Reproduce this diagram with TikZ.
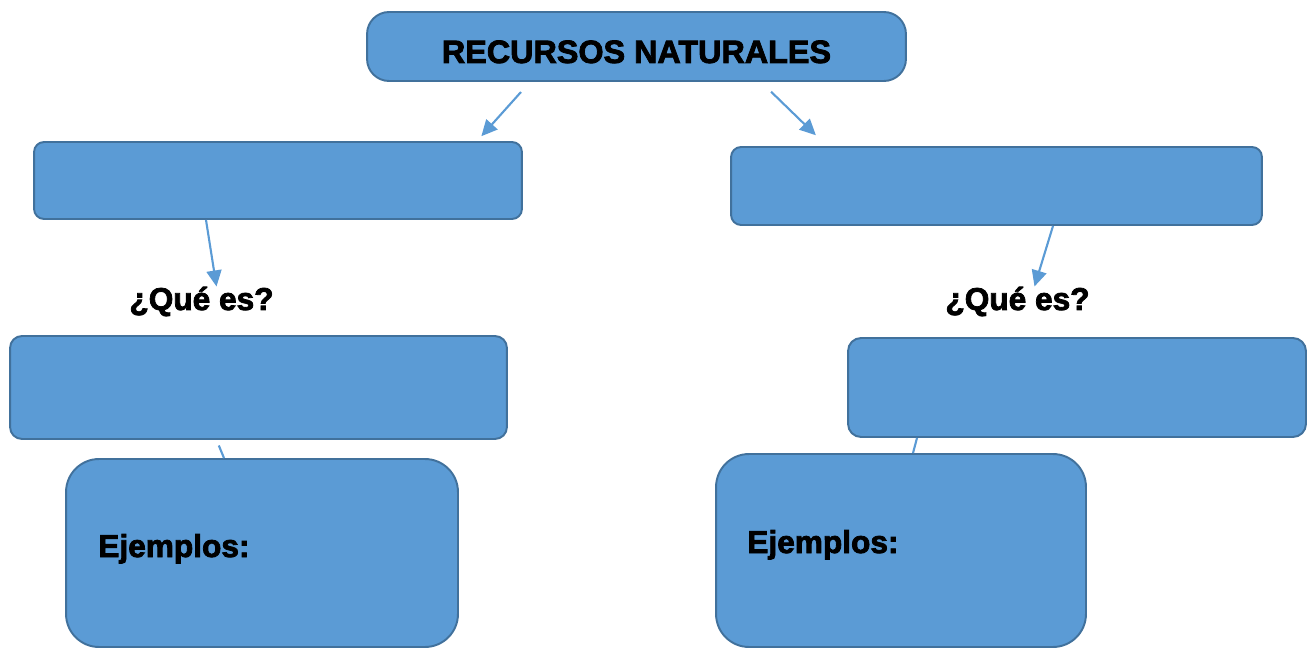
\documentclass[tikz,border=0pt]{standalone}
\usepackage{fontspec}
\setmainfont{Liberation Sans}[BoldFeatures={FakeBold=2.5}]
\usetikzlibrary{arrows.meta,calc}
\definecolor{boxfill}{HTML}{5B9BD5}
\definecolor{boxline}{HTML}{41719C}
\tikzset{
	conceptbox/.style={rectangle, draw=boxline, fill=boxfill, line width=1.1pt, inner sep=0pt},
	asklabel/.style={inner sep=0pt, anchor=base, font=\fontsize{18}{20}\selectfont\bfseries},
	linkarrow/.style={draw=boxfill, line width=1.2pt, -{Triangle[length=0.32cm, width=0.3cm]}},
	linkline/.style={draw=boxfill, line width=1.2pt}
}
\begin{document}
\begin{tikzpicture}[x=0.02cm, y=-0.02cm]
	\useasboundingbox (0,0) rectangle (1311,648);
	\node (top) at (636.5, 46.5)	[conceptbox, minimum width=10.78cm, minimum height=1.38cm, rounded corners=0.44cm]	{\raisebox{-0.33cm}[0pt][0pt]{\fontsize{18.4}{20}\selectfont\bfseries RECURSOS NATURALES}};
	\node (l1) at (278, 180.5)	[conceptbox, minimum width=9.76cm, minimum height=1.54cm, rounded corners=0.2cm]	{};
	\node (r1) at (996.5, 186)	[conceptbox, minimum width=10.62cm, minimum height=1.56cm, rounded corners=0.2cm]	{};
	\node (que1) at (201.5, 310)	[asklabel]	{¿Qué es?};
	\node (que2) at (1017.5, 310)	[asklabel]	{¿Qué es?};
	\node (l2) at (258.5, 387.5)	[conceptbox, minimum width=9.94cm, minimum height=2.06cm, rounded corners=0.24cm]	{};
	\node (r2) at (1077, 387.5)	[conceptbox, minimum width=9.16cm, minimum height=1.98cm, rounded corners=0.26cm]	{};
	\node (l3) at (262, 553)	[conceptbox, minimum width=7.84cm, minimum height=3.76cm, rounded corners=0.66cm]	{};
	\node (r3) at (901, 550.5)	[conceptbox, minimum width=7.40cm, minimum height=3.86cm, rounded corners=0.66cm]	{};
	\node (ej1) at (98, 557)	[asklabel, anchor=base west]	{Ejemplos:};
	\node (ej2) at (747, 553)	[asklabel, anchor=base west]	{Ejemplos:};
	\draw[linkarrow, shorten <=0.27cm, shorten >=0.13cm] ($(top.south)+(-106.5,0)$) -- ($(l1.north)+(199,0)$);
	\draw[linkarrow, shorten <=0.28cm, shorten >=0.31cm] ($(top.south)+(124.5,0)$) -- ($(r1.north)+(-169.5,0)$);
	\draw[linkarrow] ($(l1.south)+(-72,0)$) -- ($(que1.north)+(15,0)$);
	\draw[linkarrow] ($(r1.south)+(56.5,0)$) -- ($(que2.north)+(17,0)$);
	\draw[linkline, shorten <=0.12cm] ($(l2.south)+(-42,0)$) -- ($(l3.north)+(-38,0)$);
	\draw[linkline] ($(r2.south)+(-160,0)$) -- ($(r3.north)+(12,0)$);
\end{tikzpicture}
\end{document}
